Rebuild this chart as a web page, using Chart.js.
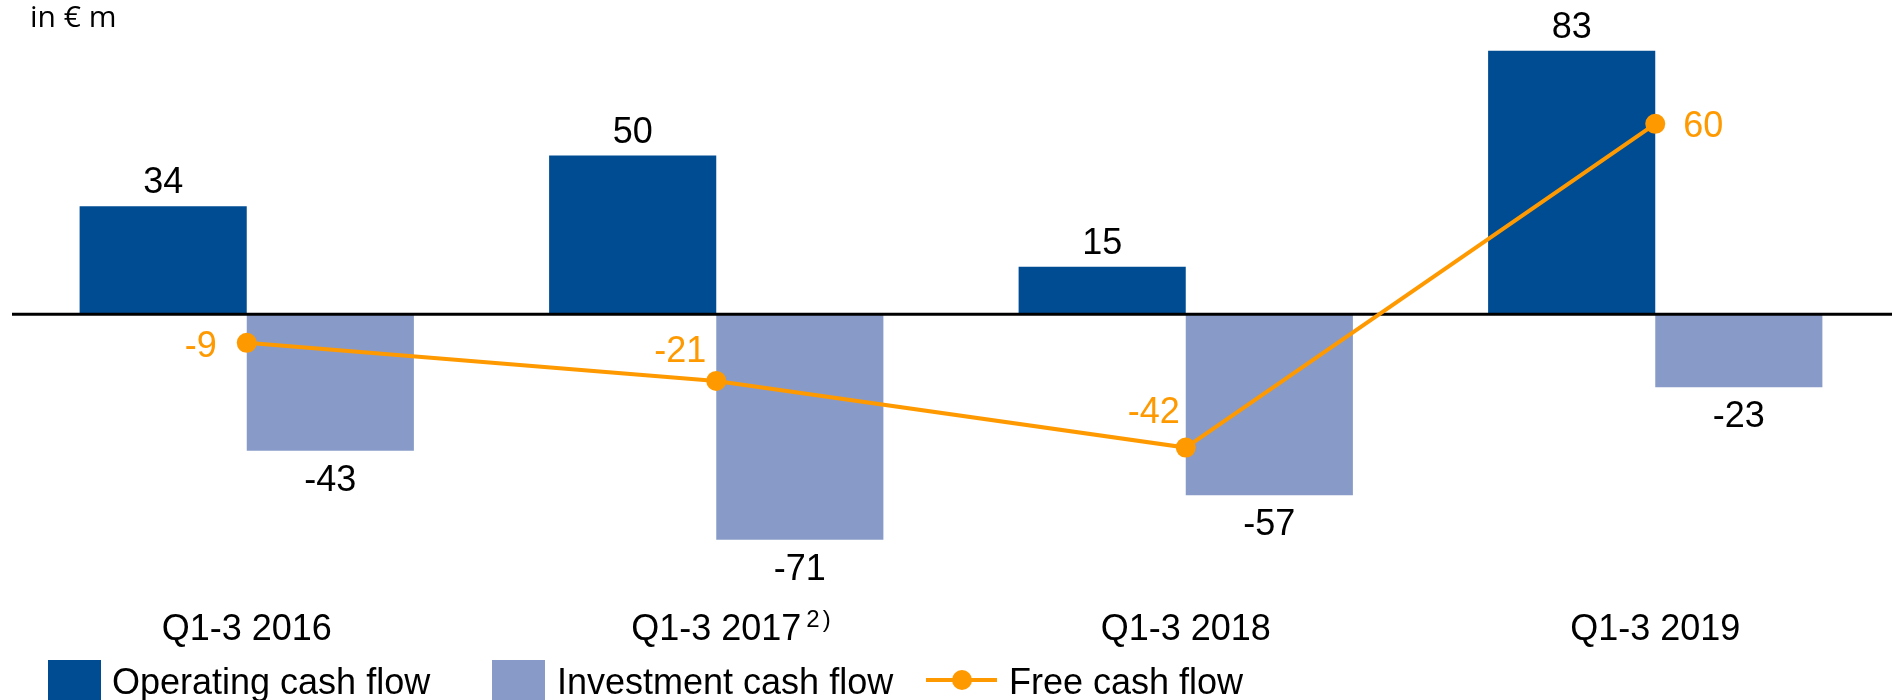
<!DOCTYPE html>
<html>
<head>
<meta charset="utf-8">
<title>Cash flow</title>
<script src="https://cdn.jsdelivr.net/npm/chart.js@4.4.1/dist/chart.umd.min.js"></script>
<style>
  html, body { margin: 0; padding: 0; background: #fff; }
  #wrap { width: 1892px; height: 700px; }
</style>
</head>
<body>
<div id="wrap"><canvas id="cashflow-chart" width="1892" height="700"></canvas></div>
<script>
// -----------------------------
// DATA
// -----------------------------
const periods = ["Q1-3 2016", "Q1-3 2017", "Q1-3 2018", "Q1-3 2019"];
const periodNotes = ["", "2)", "", ""];
const operatingCashFlow = [34, 50, 15, 83];
const investmentCashFlow = [-43, -71, -57, -23];
const freeCashFlow = [-9, -21, -42, 60];
const unitLabel = "in € m";

// -----------------------------
// STYLE
// -----------------------------
const DARK_BLUE = "#004C93";
const LIGHT_BLUE = "#889BC8";
const ORANGE = "#FF9900";
const FONT = "'Liberation Sans', Arial, sans-serif";

// where the free cash flow number sits next to its point
const fcfLabelSpots = [
  { align: "right", dx: -30, dy: 14 },
  { align: "right", dx: -10, dy: -19 },
  { align: "right", dx: -6, dy: -25 },
  { align: "left", dx: 28, dy: 13 }
];

// -----------------------------
// PLUGINS
// -----------------------------
// zero line goes over the bars but under the free cash flow line
const zeroLine = {
  id: "zeroLine",
  beforeDatasetDraw(chart, args) {
    if (args.meta.type !== "line") return;
    const ctx = chart.ctx;
    const y = chart.scales.y.getPixelForValue(0);
    ctx.save();
    ctx.strokeStyle = "#000";
    ctx.lineWidth = 3;
    ctx.beginPath();
    ctx.moveTo(chart.chartArea.left, y);
    ctx.lineTo(chart.width, y);
    ctx.stroke();
    ctx.restore();
  }
};

const valueLabels = {
  id: "valueLabels",
  afterDatasetsDraw(chart) {
    const ctx = chart.ctx;
    ctx.save();
    ctx.font = "36px " + FONT;
    ctx.textBaseline = "alphabetic";

    chart.data.datasets.forEach((ds, i) => {
      const meta = chart.getDatasetMeta(i);
      meta.data.forEach((el, j) => {
        const v = ds.data[j];
        if (ds.type === "bar") {
          ctx.fillStyle = "#000";
          ctx.textAlign = "center";
          const y = v >= 0 ? el.y - 13 : el.y + 40;
          ctx.fillText(String(v), el.x, y);
        } else {
          const spot = fcfLabelSpots[j];
          ctx.fillStyle = ORANGE;
          ctx.textAlign = spot.align;
          ctx.fillText(String(v), el.x + spot.dx, el.y + spot.dy);
        }
      });
    });
    ctx.restore();
  }
};

const extras = {
  id: "extras",
  afterDraw(chart) {
    const ctx = chart.ctx;
    const xScale = chart.scales.x;
    ctx.save();

    // unit label, top left
    ctx.fillStyle = "#000";
    ctx.font = "30px 'Open Sans', sans-serif";
    ctx.textAlign = "left";
    ctx.textBaseline = "alphabetic";
    ctx.fillText(unitLabel, 30, 27);

    // footnote marks after category labels
    periodNotes.forEach((note, i) => {
      if (!note) return;
      ctx.font = "36px " + FONT;
      const w = ctx.measureText(periods[i]).width;
      const x = xScale.getPixelForTick(i) + w / 2 + 5;
      ctx.font = "24px " + FONT;
      ctx.letterSpacing = "3px";
      ctx.fillText(note, x, 627);
      ctx.letterSpacing = "0px";
    });

    // legend
    ctx.font = "36px " + FONT;
    ctx.textBaseline = "alphabetic";
    const legendY = 694;
    const items = chart.data.datasets;

    // bar items
    ctx.fillStyle = items[0].backgroundColor;
    ctx.fillRect(48, 660, 53, 40);
    ctx.fillStyle = "#000";
    ctx.fillText(items[0].label, 112, legendY);

    ctx.fillStyle = items[1].backgroundColor;
    ctx.fillRect(492, 660, 53, 40);
    ctx.fillStyle = "#000";
    ctx.fillText(items[1].label, 557, legendY);

    // line item
    ctx.strokeStyle = items[2].borderColor;
    ctx.lineWidth = 4;
    ctx.beginPath();
    ctx.moveTo(926, 680);
    ctx.lineTo(997, 680);
    ctx.stroke();
    ctx.fillStyle = items[2].borderColor;
    ctx.beginPath();
    ctx.arc(962, 680, 10, 0, Math.PI * 2);
    ctx.fill();
    ctx.fillStyle = "#000";
    ctx.fillText(items[2].label, 1009, legendY);

    ctx.restore();
  }
};

// -----------------------------
// CHART
// -----------------------------
function drawCashFlowChart() {
  const ctx = document.getElementById("cashflow-chart").getContext("2d");

  new Chart(ctx, {
    data: {
      labels: periods,
      datasets: [
        {
          type: "bar",
          label: "Operating cash flow",
          data: operatingCashFlow,
          backgroundColor: DARK_BLUE,
          categoryPercentage: 0.712,
          barPercentage: 1.0,
          order: 1
        },
        {
          type: "bar",
          label: "Investment cash flow",
          data: investmentCashFlow,
          backgroundColor: LIGHT_BLUE,
          categoryPercentage: 0.712,
          barPercentage: 1.0,
          order: 1
        },
        {
          type: "line",
          label: "Free cash flow",
          data: freeCashFlow,
          borderColor: ORANGE,
          backgroundColor: ORANGE,
          borderWidth: 4,
          pointRadius: 10,
          pointBorderWidth: 0,
          pointBackgroundColor: ORANGE,
          tension: 0,
          clip: false,
          order: 0
        }
      ]
    },
    options: {
      responsive: false,
      animation: false,
      devicePixelRatio: 1,
      layout: { autoPadding: false, padding: { left: 12, right: 2, top: 0, bottom: 36 } },
      plugins: {
        legend: { display: false },
        tooltip: { enabled: false },
        title: { display: false }
      },
      scales: {
        x: {
          grid: { display: false, drawTicks: false },
          border: { display: false },
          ticks: {
            color: "#000",
            padding: 12,
            font: { family: FONT, size: 36 }
          }
        },
        y: {
          display: false,
          min: -89,
          max: 99
        }
      }
    },
    plugins: [zeroLine, valueLabels, extras]
  });
}

drawCashFlowChart();
</script>
</body>
</html>
